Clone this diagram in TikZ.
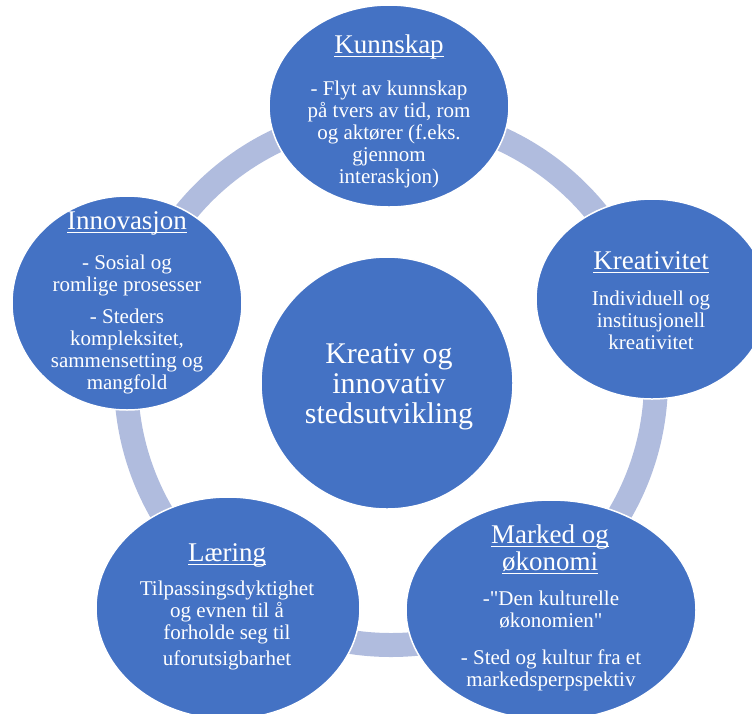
\documentclass[tikz,border=0pt]{standalone}
\usepackage{fontspec}
\setmainfont{Liberation Serif}
\usetikzlibrary{shapes.geometric}
\definecolor{cblue}{RGB}{68,114,196}
\definecolor{cring}{RGB}{176,188,222}
\newlength\myulw
\newcommand\myul[1]{\settowidth\myulw{#1}\rlap{\rule[-4.1pt]{\myulw}{1.2pt}}#1}
\tikzset{
  ringshape/.style={circle, draw=cring, line width=24pt, minimum size=530pt, inner sep=0pt},
  bub/.style={ellipse, fill=cblue, draw=white, line width=1.5pt, inner sep=0pt},
  ttl/.style={text=white, anchor=base, inner sep=0pt, font=\fontsize{27}{27}\selectfont},
  bdy/.style={text=white, anchor=base, inner sep=0pt, font=\fontsize{21}{22}\selectfont},
  ctr/.style={text=white, anchor=base, inner sep=0pt, font=\fontsize{30}{30}\selectfont},
}
\begin{document}
\begin{tikzpicture}[x=1pt,y=-1pt]
\useasboundingbox (0,0) rectangle (752,713);
\clip (0,0) rectangle (752,713);
\node[ringshape] (ring) at (391,380) {};
% bubbles
\node[bub, minimum width=252pt, minimum height=252pt] (ctrC) at (387,383) {};
\node[bub, minimum width=240pt, minimum height=202pt] (kun) at (389,106) {};
\node[bub, minimum width=232pt, minimum height=200pt] (kre) at (652,299) {};
\node[bub, minimum width=290pt, minimum height=220pt] (mar) at (551,610) {};
\node[bub, minimum width=264pt, minimum height=222pt] (lae) at (228,608) {};
\node[bub, minimum width=230pt, minimum height=214pt] (inn) at (127,303) {};
% centre text
\node[ctr] (ctrT) at (389,363) {\begin{tabular}[t]{@{}c@{}}Kreativ og\\innovativ\\stedsutvikling\end{tabular}};
% Kunnskap
\node[ttl] (kunT) at (389,53) {\myul{Kunnskap}};
\node[bdy] (kunB) at (389,95) {\begin{tabular}[t]{@{}c@{}}- Flyt av kunnskap\\på tvers av tid, rom\\og aktører (f.eks.\\gjennom\\interaskjon)\end{tabular}};
% Kreativitet
\node[ttl] (kreT) at (651,269) {\myul{Kreativitet}};
\node[bdy] (kreB) at (651,305) {\begin{tabular}[t]{@{}c@{}}Individuell og\\institusjonell\\kreativitet\end{tabular}};
% Marked og okonomi
\node[ttl] (marT) at (550,543) {\begin{tabular}[t]{@{}c@{}}\myul{Marked og}\\\myul{økonomi}\end{tabular}};
\node[bdy] (marB) at (551,605) {\begin{tabular}[t]{@{}c@{}}-\textquotedbl Den kulturelle\\økonomien\textquotedbl\\[15pt]- Sted og kultur fra et\\markedsperpspektiv\end{tabular}};
% Laering
\node[ttl] (laeT) at (227,561) {\myul{Læring}};
\node[bdy] (laeB) at (227,595) {\begin{tabular}[t]{@{}c@{}}Tilpassingsdyktighet\\og evnen til å\\forholde seg til\\[4pt]uforutsigbarhet\end{tabular}};
% Innovasjon
\node[ttl] (innT) at (127,229) {\myul{Innovasjon}};
\node[bdy] (innB) at (127,269) {\begin{tabular}[t]{@{}c@{}}- Sosial og\\romlige prosesser\\[10pt]- Steders\\kompleksitet,\\sammensetting og\\mangfold\end{tabular}};
\end{tikzpicture}
\end{document}
